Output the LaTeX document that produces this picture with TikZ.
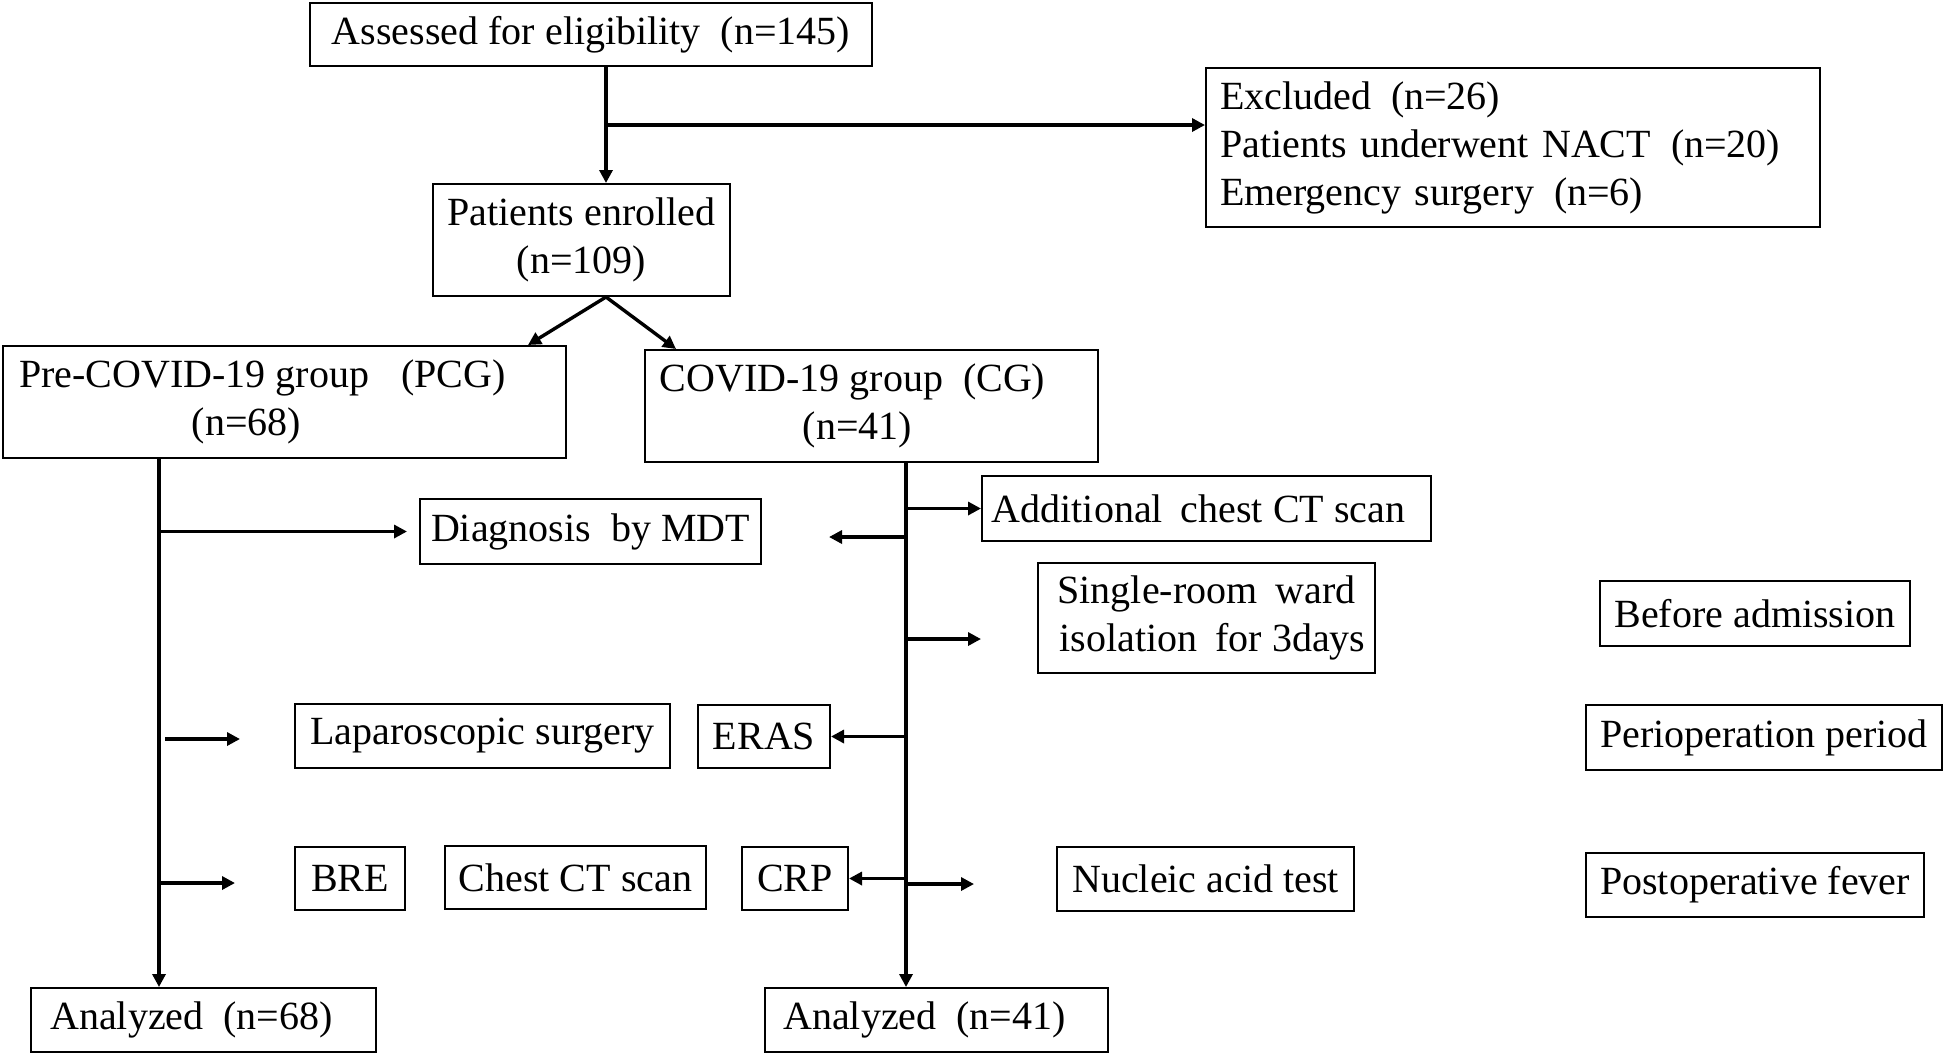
\documentclass[tikz,border=0pt]{standalone}
\usepackage{fontspec}
\setmainfont{Liberation Serif}
\usetikzlibrary{arrows.meta}
\newcommand{\Pn}[1]{\hspace{0.5em}(#1)}
\newcommand{\Gp}[1]{\rule{#1}{0pt}}
\newcommand{\bx}[7][]{\node[box,minimum width={(#5-#3)*0.5pt},minimum height={(#6-#4)*0.5pt},#1] (#2) at ({(#3+#5)/2},{(#4+#6)/2}) {#7};}
\begin{document}
\begin{tikzpicture}[x=0.5pt,y=-0.5pt,
  font=\fontsize{20pt}{24pt}\selectfont,
  box/.style={draw,line width=1pt,inner sep=0pt,align=center},
  conn/.style={line width=1.7pt,-{Triangle[length=6.5pt,width=6.5pt]}}]
\useasboundingbox (0,0) rectangle (1946,1056);
\bx{assess}{310}{3}{872}{66}{Assessed for eligibility\Pn{n=145}}
\bx[align=left,text width=293pt,inner xsep=7pt]{excl}{1206}{68}{1820}{227}{Excluded\Pn{n=26}\\Patients underwent NACT\Pn{n=20}\\Emergency surgery\Pn{n=6}}
\bx{enrolled}{433}{184}{730}{296}{Patients enrolled\\(n=109)}
\bx{pcg}{3}{346}{566}{458}{Pre-COVID-19 group\hspace{0.8em}(PCG)\Gp{22pt}\\(n=68)\Gp{38pt}}
\bx{cg}{645}{350}{1098}{462}{COVID-19 group\Pn{CG}\Gp{19pt}\\(n=41)\Gp{14pt}}
\bx{diag}{420}{499}{761}{564}{Diagnosis\hspace{0.5em}by MDT}
\bx{addct}{982}{476}{1431}{541}{Additional\hspace{0.45em}chest CT scan\Gp{8pt}}
\bx{single}{1038}{563}{1375}{673}{Single-room\hspace{0.45em}ward\\\hspace{0.3em}isolation\hspace{0.45em}for 3days}
\bx{lap}{295}{704}{670}{768}{Laparoscopic surgery}
\bx{eras}{698}{705}{830}{768}{ERAS}
\bx{bre}{295}{847}{405}{910}{BRE}
\bx{chest}{445}{846}{706}{909}{Chest CT scan}
\bx{crp}{742}{847}{848}{910}{CRP}
\bx{nucleic}{1057}{847}{1354}{911}{Nucleic acid test}
\bx{before}{1600}{581}{1910}{646}{Before admission}
\bx{peri}{1586}{705}{1942}{770}{Perioperation period}
\bx{postop}{1586}{853}{1924}{917}{Postoperative fever}
\bx{an68}{31}{988}{376}{1052}{Analyzed\Pn{n=68}\Gp{12pt}}
\bx{an41}{765}{988}{1108}{1052}{Analyzed\Pn{n=41}\Gp{12pt}}
% helper coordinates
\coordinate (xt) at (606,125);
\coordinate (xl) at (528,0);
\coordinate (xr) at (676,0);
\coordinate (xp) at (159,0);
\coordinate (xc) at (906,0);
\coordinate (f1) at (829,537);
\coordinate (f2) at (981,639);
\coordinate (f3a) at (165,739);
\coordinate (f3b) at (240,739);
\coordinate (f4) at (235,883);
\coordinate (f5) at (974,884);
% connectors
\draw[conn] (assess.south -| xt) -- (enrolled.north -| xt);
\draw[conn] (xt) -- (xt -| excl.west);
\draw[conn] (enrolled.south -| xt) -- (pcg.north -| xl);
\draw[conn] (enrolled.south -| xt) -- (cg.north -| xr);
\draw[conn] (pcg.south -| xp) -- (an68.north -| xp);
\draw[conn] (cg.south -| xc) -- (an41.north -| xc);
\draw[conn,shorten >=6pt] (diag.west -| xp) -- (diag.west);
\draw[conn] (f1 -| xc) -- (f1);
\draw[conn] (addct.west -| xc) -- (addct.west);
\draw[conn] (f2 -| xc) -- (f2);
\draw[conn] (f3a) -- (f3b);
\draw[conn] (eras.east -| xc) -- (eras.east);
\draw[conn] (f4 -| xp) -- (f4);
\draw[conn] (crp.east -| xc) -- (crp.east);
\draw[conn] (f5 -| xc) -- (f5);
\end{tikzpicture}
\end{document}
